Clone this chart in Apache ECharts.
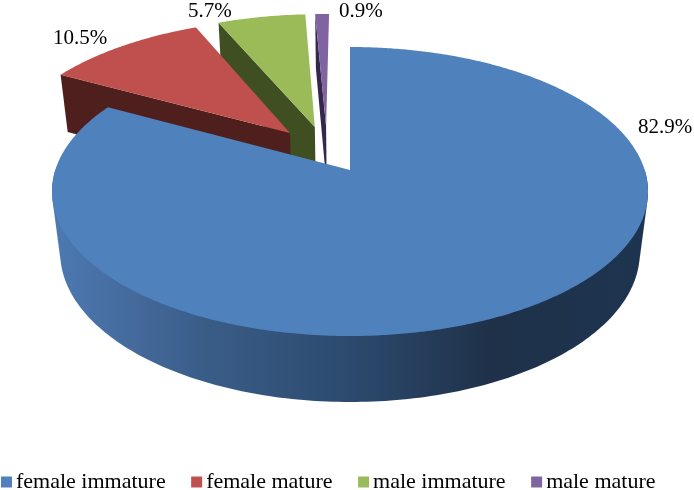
<!DOCTYPE html>
<html>
<head>
<meta charset="utf-8">
<style>html,body{margin:0;padding:0;background:#fff}#c{width:694px;height:490px}</style>
<script src="https://cdn.jsdelivr.net/npm/echarts@6/dist/echarts.min.js"></script>
</head>
<body>
<div id="c"></div>
<script>
// Data
const categories = ['female immature', 'female mature', 'male immature', 'male mature'];
const percentages = [82.9, 10.5, 5.7, 0.9];
const percentLabels = ['82.9%', '10.5%', '5.7%', '0.9%'];

// Colours
const topColors = ['#4f81bd', '#c0504d', '#9bbb59', '#8064a2'];
const wallColors = ['#2f5077', '#4f1f1d', '#3f4f22', '#33284c'];

// Layout of the perspective pie, separate from the data
const VIEW = {cx: 350, cy: 170, a: 294.7, b: 141.3, p: 0.1488, s: 0.0277, c: 62.6};
const explodeX = [0, -0.212, -0.125, -0.085];
const explodeY = [0, -0.2725, -0.319, -0.322];
const labelX = [638, 53, 188, 339];
const labelY = [127, 38, 11, 11];
const drawOrder = [4, 3, 2, 1];

const total = percentages.reduce((s, v) => s + v, 0);

function project(x, y, level) {
  const w = 1 - VIEW.p * y + VIEW.s * level;
  return [VIEW.cx + VIEW.a * x / w, VIEW.cy + (VIEW.b * y + VIEW.c * level) / w];
}
function rim(deg, idx, level) {
  const t = deg * Math.PI / 180;
  return project(Math.sin(t) + explodeX[idx], -Math.cos(t) + explodeY[idx], level);
}
function hull(points) {
  const pts = points.slice().sort((m, n) => m[0] - n[0] || m[1] - n[1]);
  const cross = (o, m, n) => (m[0] - o[0]) * (n[1] - o[1]) - (m[1] - o[1]) * (n[0] - o[0]);
  const half = list => {
    const out = [];
    list.forEach(q => {
      while (out.length > 1 && cross(out[out.length - 2], out[out.length - 1], q) <= 0) out.pop();
      out.push(q);
    });
    out.pop();
    return out;
  };
  return half(pts).concat(half(pts.slice().reverse()));
}
function startAngle(idx) {
  let sum = 0;
  for (let i = 0; i < idx; i++) sum += percentages[i];
  return sum / total * 360;
}
const sideGradient = new echarts.graphic.LinearGradient(55, 0, 645, 0, [
  {offset: 0, color: '#4c79b2'},
  {offset: 0.14, color: '#44699a'},
  {offset: 0.25, color: '#3a5d88'},
  {offset: 0.5, color: '#2c4a6e'},
  {offset: 0.74, color: '#1f3149'},
  {offset: 1, color: '#1d3450'}
], true);

function makeRender(idx) {
  return function (params, api) {
    const sweep = api.value(0) / total * 360;
    const from = startAngle(idx);
    const to = from + sweep;
    const children = [];
    const apexTop = project(explodeX[idx], explodeY[idx], 0);
    const apexBottom = project(explodeX[idx], explodeY[idx], 1);
    const topFace = [apexTop];
    for (let d = from; d < to; d += 0.5) topFace.push(rim(d, idx, 0));
    topFace.push(rim(to, idx, 0));

    if (idx === 0) {
      const band = [];
      for (let d = 90; d <= 270; d += 1) {
        band.push(rim(d, idx, 0));
        band.push(rim(d, idx, 1));
      }
      children.push({type: 'polygon', shape: {points: hull(band)}, style: {fill: sideGradient}});
    } else {
      children.push({
        type: 'polygon',
        shape: {points: [apexTop, rim(from, idx, 0), rim(from, idx, 1), apexBottom]},
        style: {fill: wallColors[idx]}
      });
    }
    children.push({type: 'polygon', shape: {points: topFace}, style: {fill: topColors[idx]}});
    children.push({
      type: 'text',
      x: labelX[idx],
      y: labelY[idx],
      style: {
        text: percentLabels[idx],
        fontFamily: 'Liberation Serif',
        fontSize: 21,
        fill: '#000',
        textAlign: 'left',
        textVerticalAlign: 'middle'
      }
    });
    return {type: 'group', children: children};
  };
}

const chart = echarts.init(document.getElementById('c'), null, {renderer: 'canvas'});
chart.setOption({
  animation: false,
  backgroundColor: '#fff',
  legend: {
    left: 1,
    top: 471,
    padding: 0,
    icon: 'rect',
    itemWidth: 11,
    itemHeight: 11,
    itemGap: 25.5,
    textStyle: {fontFamily: 'Liberation Serif', fontSize: 22, color: '#000', padding: [0, 0, 0, -1]},
    data: categories
  },
  series: categories.map((name, idx) => ({
    type: 'custom',
    name: name,
    coordinateSystem: 'none',
    z: drawOrder[idx],
    silent: true,
    itemStyle: {color: topColors[idx]},
    data: [[percentages[idx]]],
    renderItem: makeRender(idx)
  }))
});
</script>
</body>
</html>
